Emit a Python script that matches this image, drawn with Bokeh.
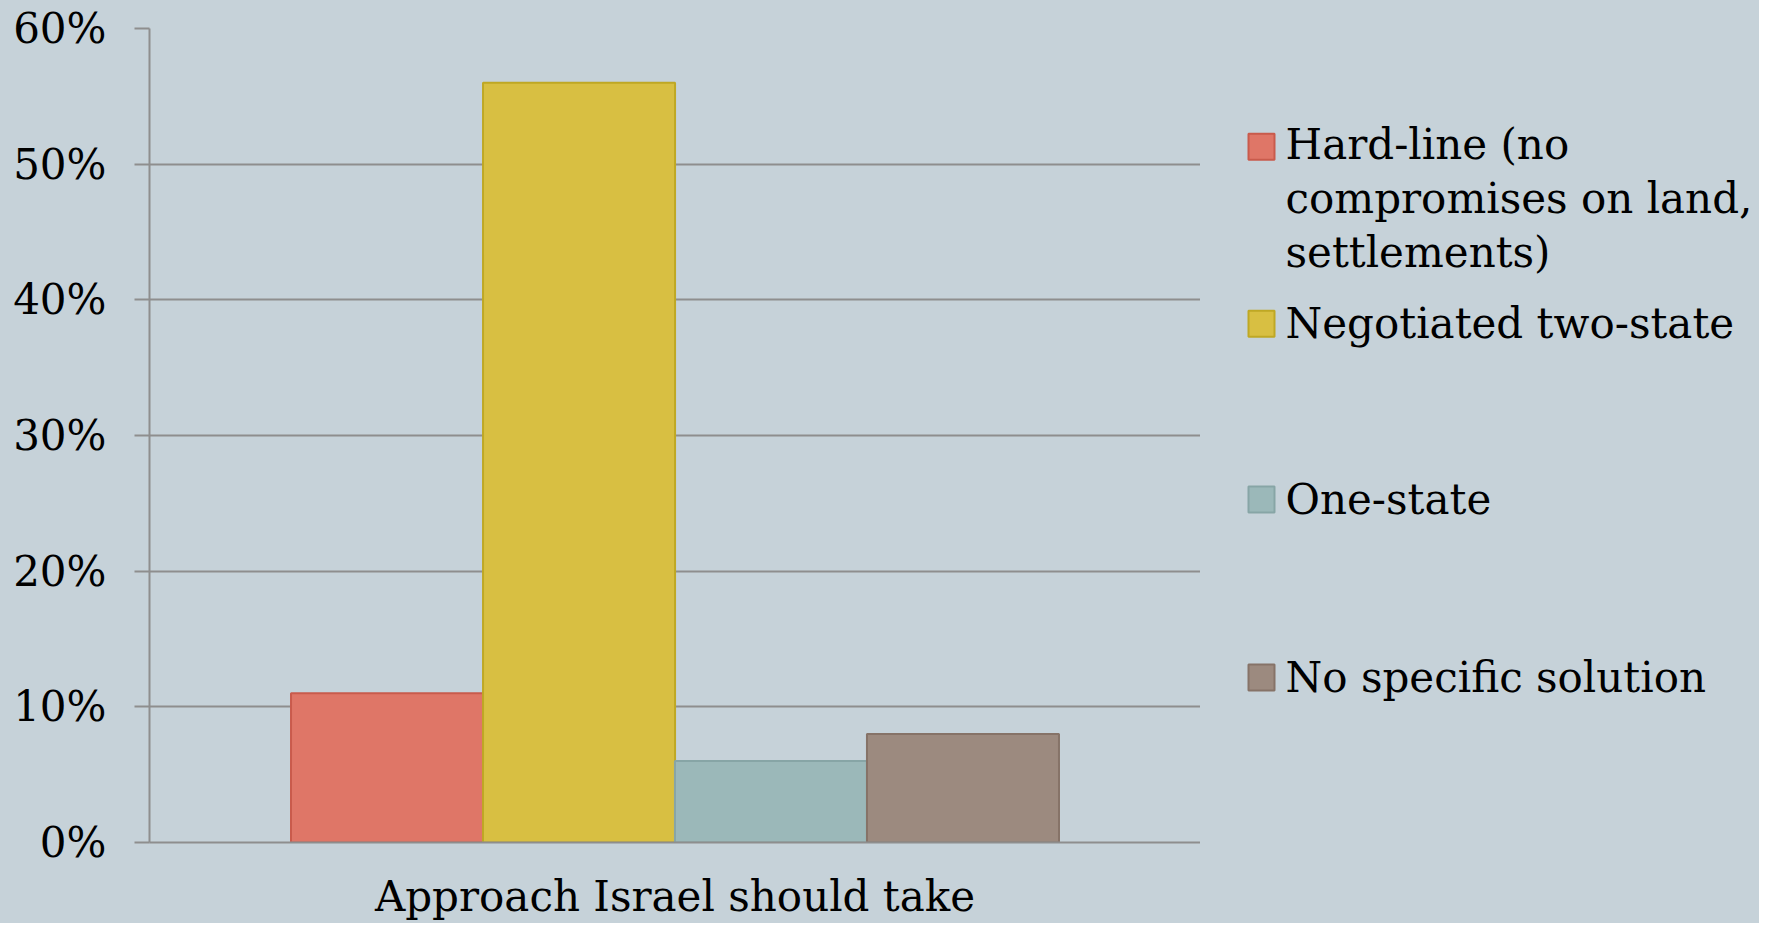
from bokeh.plotting import figure
from bokeh.layouts import row
from bokeh.models import (ColumnDataSource, FactorRange, Range1d, NumeralTickFormatter, FixedTicker)
from bokeh.core.properties import value
from bokeh.transform import dodge
from bokeh.embed import file_html
from bokeh.resources import INLINE

category = "Approach Israel should take"
series = ["Hard-line (no\ncompromises on land,\nsettlements)", "Negotiated two-state", "One-state", "No specific solution"]
values = [0.11, 0.56, 0.06, 0.08]
fill_colors = ["#df7667", "#d8bf42", "#9bb8b9", "#9c8a7f"]
line_colors = ["#c95b4c", "#bfa824", "#87a5a6", "#867368"]
y_ticks = [0.0, 0.1, 0.2, 0.3, 0.4, 0.5, 0.6]

BG = "#c6d2d9"
GRID = "#8e8e8e"
FONT = "DejaVu Serif"
FS = "42px"
H = 923
TOP, BOTTOM = 28, 76

data = {"cat": [category]}
for i, v in enumerate(values):
    data["s%d" % i] = [v]
source = ColumnDataSource(data)

# ---- main chart ----
p = figure(width=1200, height=H,
           x_range=FactorRange(category, range_padding=0),
           y_range=Range1d(0, 0.6),
           output_backend="svg", toolbar_location=None,
           min_border_left=149, min_border_right=0,
           min_border_top=TOP, min_border_bottom=BOTTOM)

p.background_fill_color = None
p.border_fill_color = None
p.outline_line_color = None
p.styles = {"background-color": BG}

offsets = [-0.274, -0.0913, 0.0913, 0.274]
bar_w = 0.1827
for i in range(len(values)):
    p.vbar(x=dodge("cat", offsets[i], range=p.x_range), top="s%d" % i, bottom=0,
           width=bar_w, source=source,
           fill_color=fill_colors[i], line_color=line_colors[i], line_width=2)

p.xgrid.grid_line_color = None
p.ygrid.grid_line_color = GRID
p.ygrid.grid_line_width = 2
p.ygrid.level = "underlay"

p.yaxis.ticker = FixedTicker(ticks=y_ticks)
p.yaxis.formatter = NumeralTickFormatter(format="0%")
p.yaxis.bounds = (-0.0103, 0.6)
p.yaxis.axis_line_color = GRID
p.yaxis.axis_line_width = 2
p.yaxis.major_tick_line_color = GRID
p.yaxis.major_tick_line_width = 2
p.yaxis.major_tick_out = 15
p.yaxis.major_tick_in = 0
p.yaxis.minor_tick_line_color = None
p.yaxis.major_label_standoff = 28
p.yaxis.major_label_text_font = FONT
p.yaxis.major_label_text_font_size = FS
p.yaxis.major_label_text_color = "black"

p.xaxis.axis_line_color = GRID
p.xaxis.axis_line_width = 2
p.xaxis.major_tick_line_color = None
p.xaxis.minor_tick_line_color = None
p.xaxis.major_label_standoff = 23
p.xaxis.major_label_text_font = FONT
p.xaxis.major_label_text_font_size = FS
p.xaxis.major_label_text_color = "black"

# ---- legend panel (pixel coordinates, measured from the panel's bottom) ----
LW = 1759 - 1200
lf = figure(width=LW, height=H, x_range=Range1d(0, LW), y_range=Range1d(BOTTOM, H - TOP),
            output_backend="svg", toolbar_location=None,
            x_axis_location=None, y_axis_location=None,
            min_border_left=0, min_border_right=0,
            min_border_top=TOP, min_border_bottom=BOTTOM)
lf.background_fill_color = None
lf.border_fill_color = None
lf.outline_line_color = None
lf.styles = {"background-color": BG}
lf.xgrid.grid_line_color = None
lf.ygrid.grid_line_color = None

key_x = 61
label_x = 85
key_y = [776, 598, 421, 242]
label_y = [724, 598, 421, 242]
legend_src = ColumnDataSource(dict(kx=[key_x] * 4, ky=key_y, lx=[label_x] * 4, ly=label_y,
                                   label=series, fill=fill_colors, line=line_colors))
lf.rect(x="kx", y="ky", width=26, height=26, width_units="screen", height_units="screen",
        fill_color="fill", line_color="line", line_width=2, source=legend_src)
lf.text(x="lx", y="ly", text="label", source=legend_src,
        text_font=value(FONT), text_font_size=value(FS), text_color="black",
        text_baseline="middle", text_align="left", text_line_height=1.1)

layout = row(p, lf, styles={"background-color": BG})
open("out.html", "w").write(file_html(layout, INLINE))
